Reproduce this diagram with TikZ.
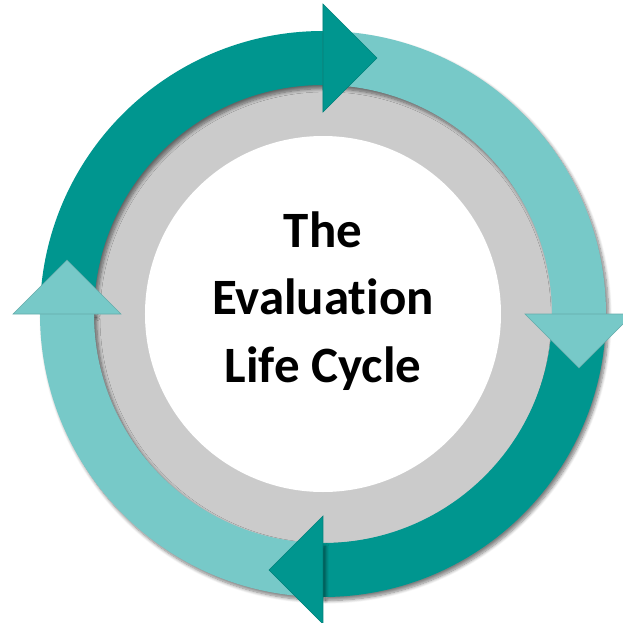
\documentclass[tikz,border=0pt]{standalone}
\usepackage{fontspec}
\setmainfont{Carlito}[Ligatures=NoCommon]
\usetikzlibrary{shadows.blur}
\definecolor{tealdark}{RGB}{0,150,143}
\definecolor{teallight}{RGB}{119,201,200}
\definecolor{ringgray}{RGB}{203,203,203}
\tikzset{
	band/.style={blur shadow={shadow xshift=1.5pt, shadow yshift=-2pt, shadow blur steps=8, shadow opacity=50}},
	headtip/.style={draw=#1!85!black, line width=0.3pt, fill=#1}
}
\begin{document}
\begin{tikzpicture}
		\useasboundingbox (-6.46,-6.18) rectangle (6.0,6.28);
		% ring behind the cycle
		\fill[ringgray] (0,0) circle (4.6);
		\fill[white] (0,0) circle (3.56);
		% the four arcs
		\foreach \a/\c in {180/tealdark, 90/teallight, 0/tealdark, -90/teallight}
			\fill[band, \c] (\a:5.66) arc[start angle=\a, end angle=\a-90, radius=5.66]
			-- (\a-90:4.58) arc[start angle=\a-90, end angle=\a, radius=4.58] -- cycle;
		% heads
		\foreach \a/\c in {180/tealdark, 90/teallight, 0/tealdark, -90/teallight}
			\path[headtip=\c, rotate=\a-90] (4.04,0) -- (6.2,0) -- (5.12,-1.08) -- cycle;
		\node[font=\bfseries\fontsize{29}{38.5}\selectfont, align=center] (title) at (0,0.26) {The\\Evaluation\\Life Cycle};
	\end{tikzpicture}
\end{document}
